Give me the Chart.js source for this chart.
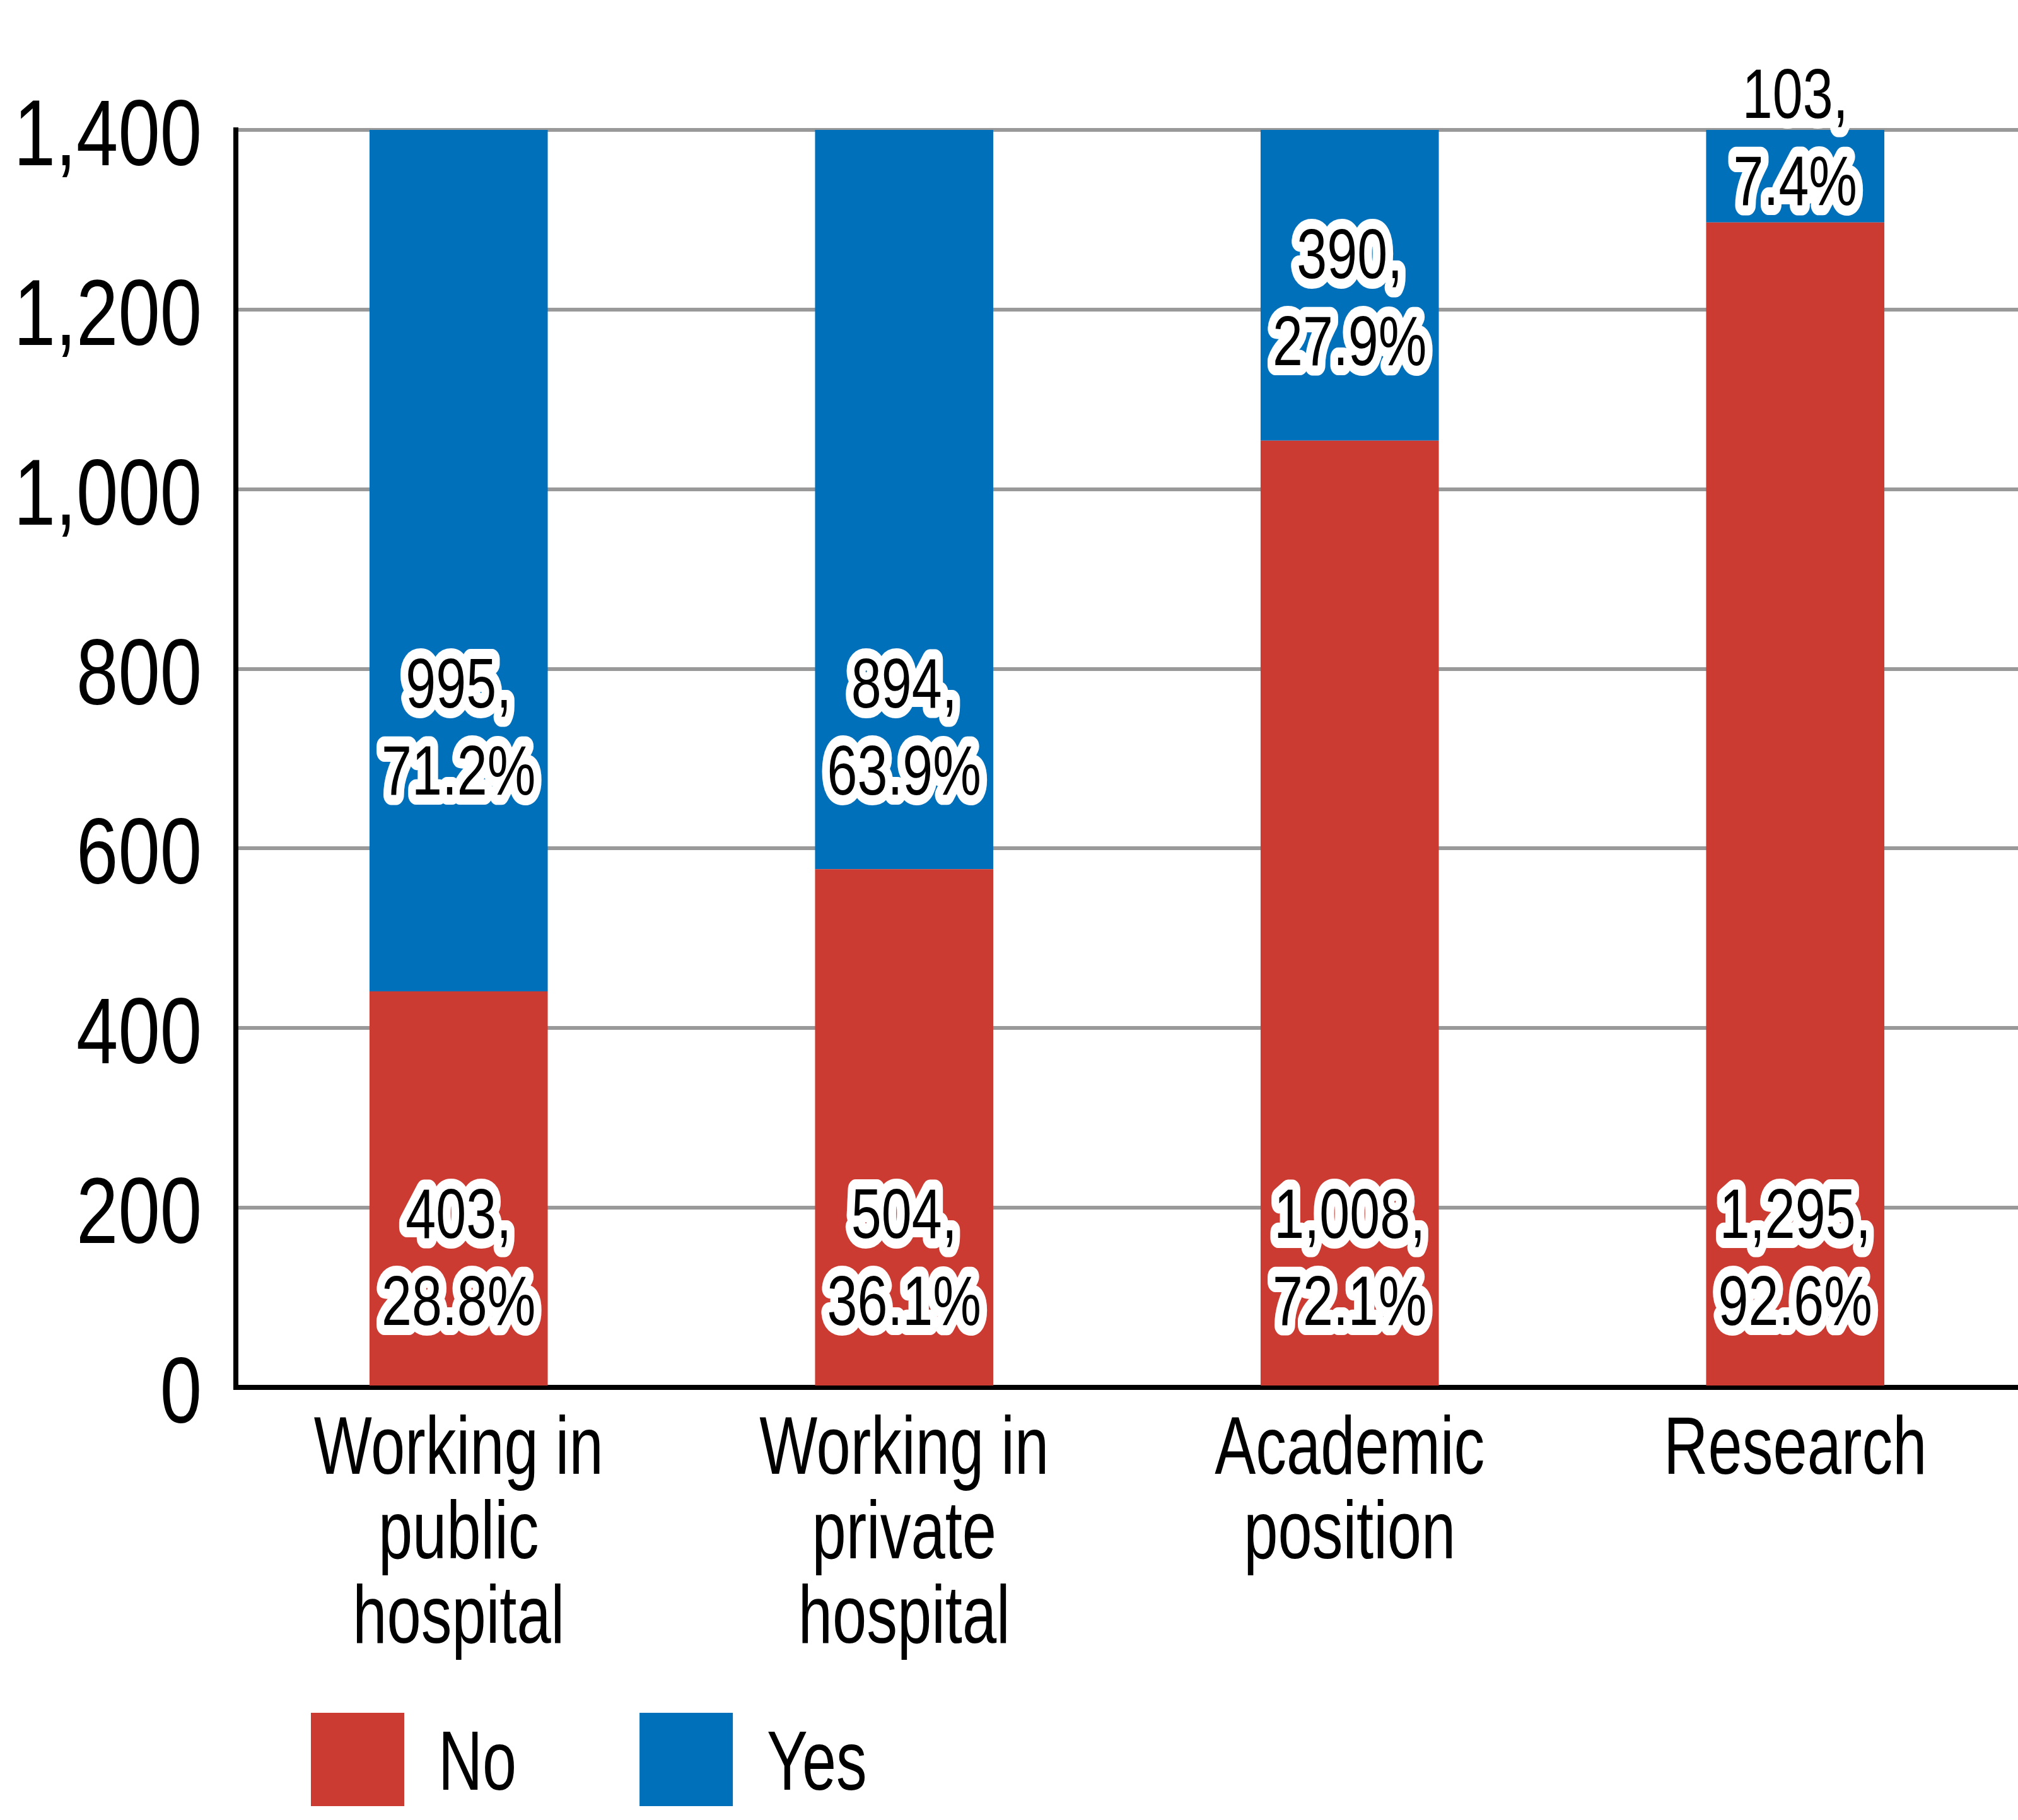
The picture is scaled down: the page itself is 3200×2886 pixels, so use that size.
<!DOCTYPE html>
<html lang="en">
<head>
    <meta charset="UTF-8">
    <title>Yes / No by position</title>
    <style>
        body {
            margin: 0;
            padding: 0;
            background-color: #ffffff;
        }

        canvas {
            display: block;
        }
    </style>
</head>
<body>
    <canvas id="barCanvas" width="3200" height="2886"></canvas>

    <script src="https://cdn.jsdelivr.net/npm/chart.js"></script>
    <script>
        // chart values
        const categories = [
            ['Working in', 'public', 'hospital'],
            ['Working in', 'private', 'hospital'],
            ['Academic', 'position'],
            ['Research']
        ];
        const seriesNames = ['No', 'Yes'];
        // segment heights as drawn in the picture
        const noBars = [441, 577, 1054, 1297];
        const yesBars = [959, 823, 346, 103];
        // printed labels
        const noCounts = [403, 504, 1008, 1295];
        const yesCounts = [995, 894, 390, 103];
        const noPercent = ['28.8%', '36.1%', '72.1%', '92.6%'];
        const yesPercent = ['71.2%', '63.9%', '27.9%', '7.4%'];
        const yTicks = [0, 200, 400, 600, 800, 1000, 1200, 1400];

        // where the value labels sit, in axis units
        const noLabelAt = [147, 147, 147, 147];
        const yesLabelAt = [737, 737, 1215, 1394];

        const RED = '#CC3B32';
        const BLUE = '#0070BB';
        const FONT = "'Liberation Sans', Arial, sans-serif";

        const fmt = v => v.toLocaleString('en-US');

        // text squeezed sideways to get the condensed look
        function squeezeText(ctx, txt, x, y, sx, outline) {
            ctx.save();
            ctx.translate(x, y);
            ctx.scale(sx, 1);
            if (outline) {
                ctx.lineJoin = 'round';
                ctx.lineWidth = outline;
                ctx.strokeStyle = '#ffffff';
                ctx.strokeText(txt, 0, 0);
            }
            ctx.fillStyle = '#000000';
            ctx.fillText(txt, 0, 0);
            ctx.restore();
        }

        // tick labels for both axes
        const axisText = {
            id: 'axisText',
            afterDraw(chart) {
                const ctx = chart.ctx;
                const xs = chart.scales.x;
                const ys = chart.scales.y;
                ctx.save();
                ctx.textBaseline = 'alphabetic';

                ctx.font = '149px ' + FONT;
                ctx.textAlign = 'right';
                yTicks.forEach(v => {
                    squeezeText(ctx, fmt(v), 320, ys.getPixelForValue(v) + 56, 0.8);
                });

                ctx.font = '130px ' + FONT;
                ctx.textAlign = 'center';
                categories.forEach((lines, i) => {
                    const cx = xs.getPixelForValue(i);
                    lines.forEach((txt, li) => {
                        squeezeText(ctx, txt, cx, xs.top + 137 + li * 134, 0.75);
                    });
                });
                ctx.restore();
            }
        };

        // outlined "count,\npercent" labels on each bar segment
        const valueLabels = {
            id: 'valueLabels',
            afterDatasetsDraw(chart) {
                const ctx = chart.ctx;
                const ys = chart.scales.y;
                const sets = [
                    { counts: noCounts, pct: noPercent, at: noLabelAt },
                    { counts: yesCounts, pct: yesPercent, at: yesLabelAt }
                ];
                ctx.save();
                ctx.font = '112px ' + FONT;
                ctx.textAlign = 'center';
                ctx.textBaseline = 'alphabetic';
                sets.forEach((s, di) => {
                    chart.getDatasetMeta(di).data.forEach((bar, i) => {
                        const cy = ys.getPixelForValue(s.at[i]);
                        squeezeText(ctx, fmt(s.counts[i]) + ',', bar.x, cy - 28, 0.77, 32);
                        squeezeText(ctx, s.pct[i], bar.x, cy + 110, 0.77, 32);
                    });
                });
                ctx.restore();
            }
        };

        // square-swatch legend under the axis labels
        const bottomLegend = {
            id: 'bottomLegend',
            afterDraw(chart) {
                const ctx = chart.ctx;
                const box = 148;
                const top = 2716;
                const sx = 0.73;
                let x = 493;
                ctx.save();
                ctx.font = '133px ' + FONT;
                ctx.textAlign = 'left';
                ctx.textBaseline = 'alphabetic';
                chart.data.datasets.forEach(ds => {
                    ctx.fillStyle = ds.backgroundColor;
                    ctx.fillRect(x, top, box, box);
                    const tx = x + box + 54;
                    squeezeText(ctx, ds.label, tx, top + box / 2 + 48, sx);
                    x = tx + ctx.measureText(ds.label).width * sx + 195;
                });
                ctx.restore();
            }
        };

        const ctx = document.getElementById('barCanvas').getContext('2d');

        new Chart(ctx, {
            type: 'bar',
            data: {
                labels: categories,
                datasets: [
                    { label: seriesNames[0], data: noBars, backgroundColor: RED },
                    { label: seriesNames[1], data: yesBars, backgroundColor: BLUE }
                ]
            },
            options: {
                responsive: false,
                animation: false,
                devicePixelRatio: 1,
                layout: { padding: { top: 206, right: 0, left: 0, bottom: 0 } },
                plugins: {
                    legend: { display: false },
                    tooltip: { enabled: false }
                },
                datasets: {
                    bar: { categoryPercentage: 1, barPercentage: 0.4 }
                },
                scales: {
                    x: {
                        stacked: true,
                        grid: { display: false, drawTicks: false },
                        border: { display: true, color: '#000000', width: 8 },
                        ticks: { display: false },
                        afterFit: s => { s.height = 686; }
                    },
                    y: {
                        stacked: true,
                        min: 0,
                        max: 1400,
                        afterBuildTicks: s => { s.ticks = yTicks.map(v => ({ value: v })); },
                        grid: { color: '#999999', lineWidth: 6, drawTicks: false },
                        border: { display: true, color: '#000000', width: 8 },
                        ticks: { display: false },
                        afterFit: s => { s.width = 374; }
                    }
                }
            },
            plugins: [valueLabels, axisText, bottomLegend]
        });
    </script>
</body>
</html>
